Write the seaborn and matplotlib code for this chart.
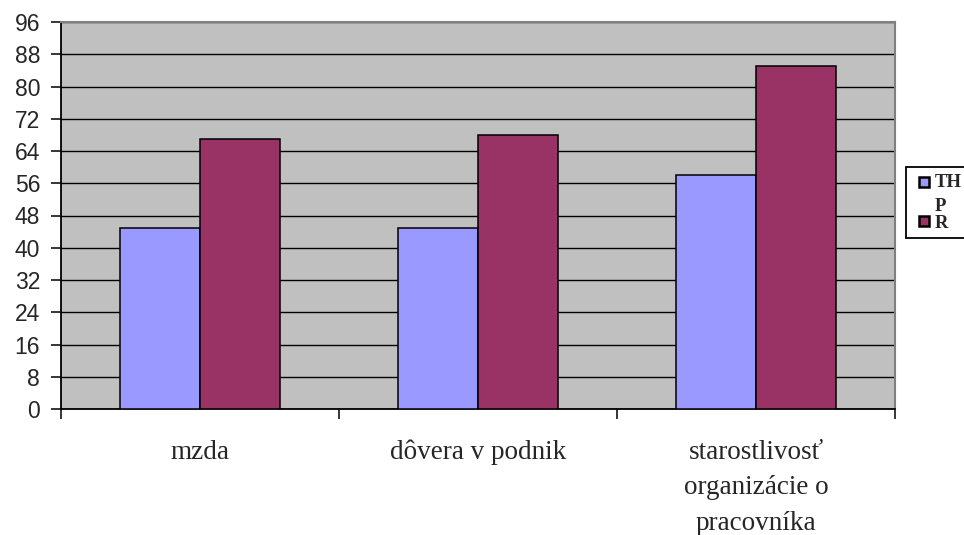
import matplotlib
matplotlib.use("Agg")
import matplotlib.pyplot as plt
import seaborn as sns
import pandas as pd
from matplotlib.patches import Rectangle
from matplotlib.legend_handler import HandlerPatch

# Data
categories = ["mzda", "dôvera v podnik", "starostlivosť\norganizácie o\npracovníka"]
series_names = ["TH\nP", "R"]
thp_values = [45, 45, 58]
r_values = [67, 68, 85]
y_ticks = list(range(0, 97, 8))
colors = ["#9999FF", "#993366"]

df = pd.DataFrame({
    "kategoria": categories * 2,
    "skupina": [series_names[0]] * len(categories) + [series_names[1]] * len(categories),
    "hodnota": thp_values + r_values,
})

sns.set_theme(style="white")
plt.rcParams["font.family"] = ["Liberation Sans", "DejaVu Sans"]

W, H = 964, 535
fig = plt.figure(figsize=(W / 100, H / 100), dpi=100)
ax = fig.add_axes([61 / W, 1 - 409 / H, (895 - 61) / W, (409 - 22) / H])
ax.set_facecolor("#C0C0C0")

sns.barplot(data=df, x="kategoria", y="hodnota", hue="skupina",
            palette=colors, saturation=1, width=0.572, errorbar=None,
            edgecolor="black", linewidth=1.1, ax=ax, zorder=3)

ax.set_xlim(-0.5, len(categories) - 0.5)
ax.set_ylim(0, 96)
ax.set_yticks(y_ticks)
ax.set_yticklabels([str(v) for v in y_ticks], fontsize=16.5, family="Liberation Sans")
ax.yaxis.grid(True, color="black", linewidth=1.0, zorder=1)
ax.set_axisbelow(True)
ax.set_xlabel("")
ax.set_ylabel("")

# x: tick marks between categories, labels centred under groups
ax.set_xticks([i - 0.5 for i in range(len(categories) + 1)])
ax.set_xticklabels([])
ax.set_xticks(range(len(categories)), minor=True)
ax.set_xticklabels(categories, minor=True, fontsize=19.5, family="Liberation Serif",
                   linespacing=1.57)
ax.tick_params(axis="x", which="major", direction="out", length=7, width=1.1,
               color="black", bottom=True)
ax.tick_params(axis="x", which="minor", length=0, pad=22)
ax.tick_params(axis="y", direction="out", length=7, width=1.1, color="black",
               left=True, pad=8)

for side in ["left", "bottom"]:
    ax.spines[side].set_color("black")
    ax.spines[side].set_linewidth(1.3)
for side in ["top", "right"]:
    ax.spines[side].set_color("#808080")
    ax.spines[side].set_linewidth(1.5)


def square_key(shift_lines):
    """Legend key: a square at the right of the key box, level with the first label line."""
    def make(legend, orig_handle, xdescent, ydescent, width, height, fontsize):
        side = fontsize * 0.56
        dy = shift_lines * fontsize * 0.64
        return Rectangle((-xdescent + width - side, -ydescent + (height - side) / 2 + dy),
                         side, side)
    return make


handles, labels = ax.get_legend_handles_labels()
ax.get_legend().remove()
handler_map = {
    handles[0]: HandlerPatch(patch_func=square_key(1)),
    handles[1]: HandlerPatch(patch_func=square_key(0)),
}
leg = fig.legend(handles, labels, loc="upper left",
                 bbox_to_anchor=(906 / W, 1 - 167 / H),
                 handler_map=handler_map,
                 prop={"family": "Liberation Serif", "weight": "bold", "size": 13.5},
                 frameon=True, fancybox=False, edgecolor="black", framealpha=1,
                 handlelength=0.88, handleheight=0.54, handletextpad=0.3,
                 borderpad=0.35, labelspacing=0.0, borderaxespad=0)
leg.get_frame().set_linewidth(1.3)
for t in leg.get_texts():
    t.set_multialignment("left")
    t.set_linespacing(1.55)
for h in leg.legend_handles:
    h.set_edgecolor("black")
    h.set_linewidth(1.8)

fig.savefig("out.png", dpi=100)
